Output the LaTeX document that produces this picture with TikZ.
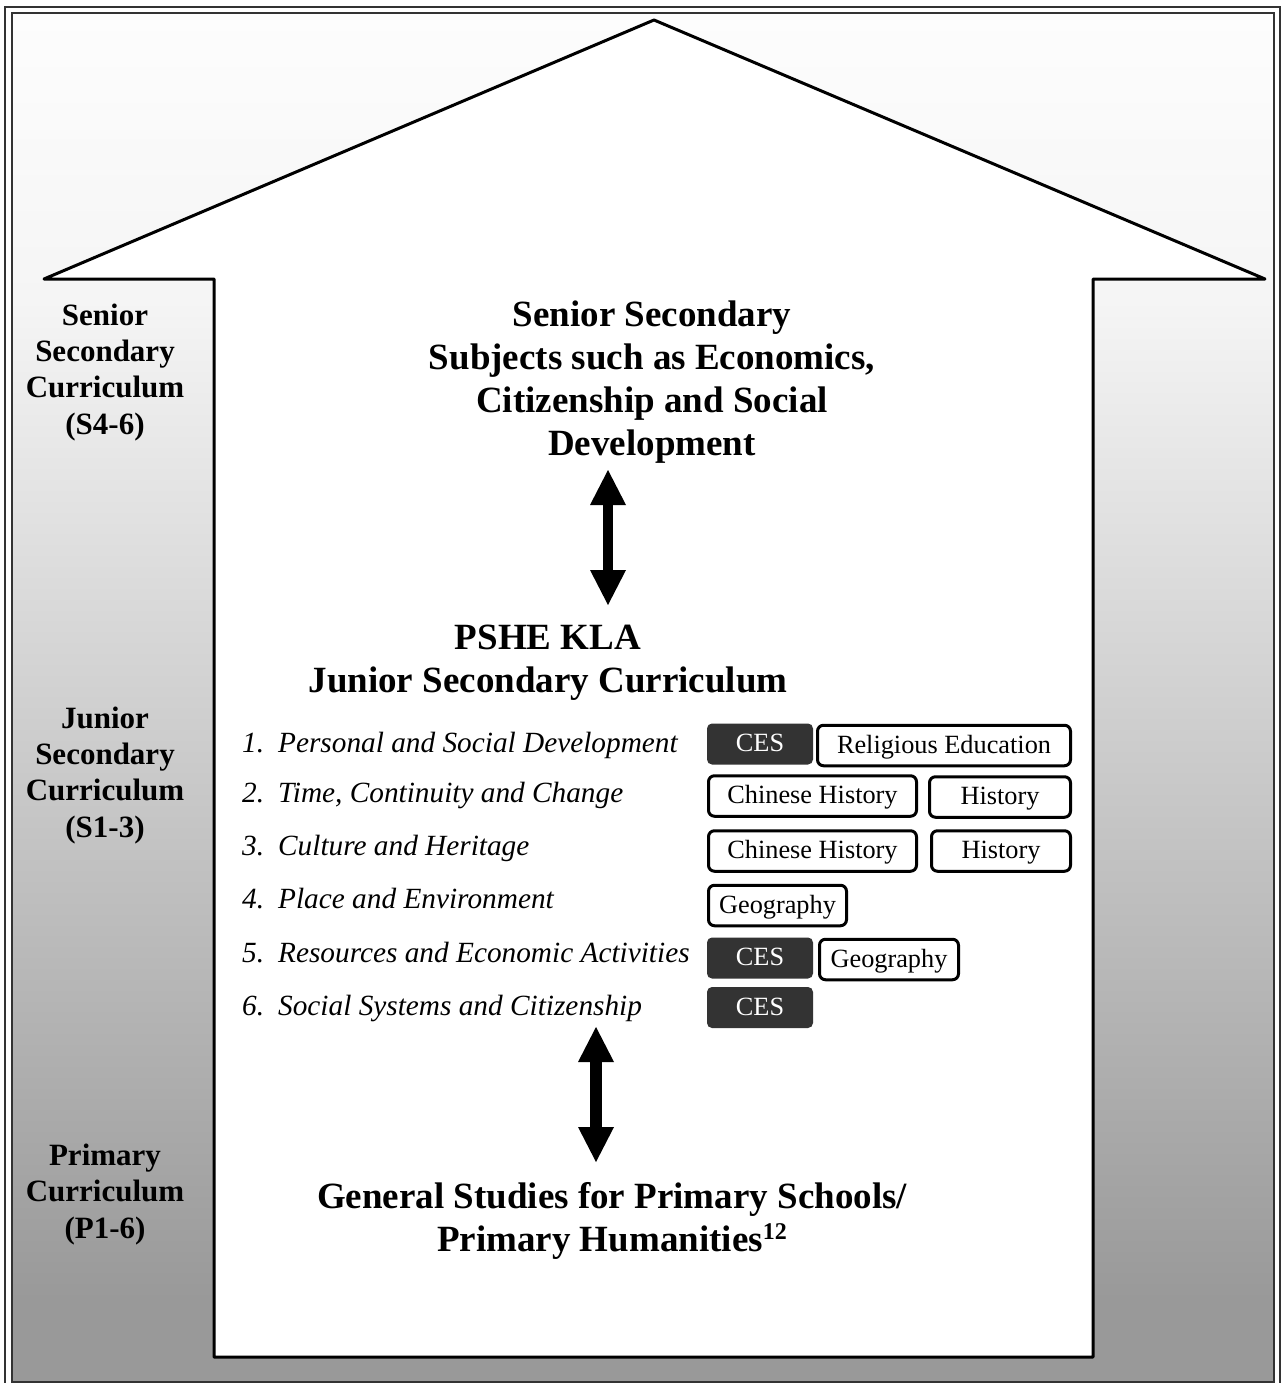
\documentclass[tikz,border=0pt]{standalone}
\usepackage{fontspec}
\setmainfont{Liberation Serif}
\usetikzlibrary{arrows.meta}
\definecolor{bgbot}{RGB}{153,153,153}
\definecolor{bgmid}{RGB}{245,245,245}
\definecolor{bgtop}{RGB}{253,253,253}
\definecolor{framegray}{RGB}{51,51,51}
\definecolor{cesgray}{RGB}{51,51,51}
\pgfdeclareverticalshading{bggrad}{100bp}{color(0bp)=(bgbot); color(28bp)=(bgbot); color(64.5bp)=(bgmid); color(75bp)=(bgtop); color(100bp)=(bgtop)}
\tikzset{
  frameline/.style={draw=framegray, line width=2pt},
  houseline/.style={draw=black, line width=3pt, fill=white, line join=round},
  sidelabel/.style={align=center, inner sep=0pt, font=\fontsize{31}{36.3}\selectfont\bfseries},
  titlelabel/.style={align=center, inner sep=0pt, font=\fontsize{37}{43}\selectfont\bfseries},
  itemlabel/.style={inner sep=0pt, anchor=base west, font=\fontsize{29.3}{29.3}\selectfont\itshape},
  subj/.style={draw=black, line width=3pt, fill=white, rounded corners=6pt, inner sep=0pt,
    font=\fontsize{26.3}{26.3}\selectfont, text height=19pt, text depth=4pt, minimum height=40.5pt},
  ces/.style={fill=cesgray, text=white, rounded corners=5pt, inner sep=0pt,
    font=\fontsize{26.3}{26.3}\selectfont, text height=19pt, text depth=4pt, minimum height=41pt, minimum width=106pt},
  dblarrow/.style={draw=black, {Triangle[length=35pt 0 0, width=36pt 0 0, line width=0pt 0 0]}-{Triangle[length=35pt 0 0, width=36pt 0 0, line width=0pt 0 0]}}
}
\begin{document}
\begin{tikzpicture}[x=1pt, y=-1pt]
\useasboundingbox (0,0) rectangle (1285,1383);
% frame and background
\draw[frameline] (5,7) rectangle (1280,1392);
\shade[shading=bggrad] (12,13) rectangle (1274,1382);
\draw[frameline] (12,13) rectangle (1274,1382);
% house outline
\draw[houseline] (654,20) -- (1265,279) -- (1093,279) -- (1093,1357) -- (214,1357) -- (214,279) -- (44,279) -- cycle;
% side labels (base = baseline of last line)
\node[sidelabel, anchor=base] (sslab) at (105,434) {Senior\\Secondary\\Curriculum\\(S4-6)};
\node[sidelabel, anchor=base] (jslab) at (105,837) {Junior\\Secondary\\Curriculum\\(S1-3)};
\node[sidelabel, anchor=base] (prlab) at (105,1238) {Primary\\Curriculum\\(P1-6)};
% titles
\node[titlelabel, anchor=base] (sstitle) at (652,455) {Senior Secondary\\Subjects such as Economics,\\Citizenship and Social\\Development};
\node[titlelabel, anchor=base] (jstitle) at (548,692) {PSHE KLA\\Junior Secondary Curriculum};
\node[titlelabel, anchor=base] (prtitle) at (612,1251) {General Studies for Primary Schools/\\Primary Humanities\raisebox{12pt}{\fontsize{24}{24}\selectfont 12}};
% strands
\node[itemlabel] (s1) at (242,752) {\makebox[36pt][l]{1.}Personal and Social Development};
\node[itemlabel] (s2) at (242,802) {\makebox[36pt][l]{2.}Time, Continuity and Change};
\node[itemlabel] (s3) at (242,855) {\makebox[36pt][l]{3.}Culture and Heritage};
\node[itemlabel] (s4) at (242,908) {\makebox[36pt][l]{4.}Place and Environment};
\node[itemlabel] (s5) at (242,962) {\makebox[36pt][l]{5.}Resources and Economic Activities};
\node[itemlabel] (s6) at (242,1015) {\makebox[36pt][l]{6.}Social Systems and Citizenship};
% subject boxes
\node[ces] (ces1) at (760,744) {CES};
\node[subj, minimum width=253pt] (rel) at (944,745.5) {Religious Education};
\node[subj, minimum width=208pt] (chh1) at (812.5,796) {Chinese History};
\node[subj, minimum width=141pt] (his1) at (1000,797) {History};
\node[subj, minimum width=208pt] (chh2) at (812.5,851) {Chinese History};
\node[subj, minimum width=139pt] (his2) at (1001,851) {History};
\node[subj, minimum width=138pt] (geo1) at (777.5,905.5) {Geography};
\node[ces] (ces2) at (760,958) {CES};
\node[subj, minimum width=139pt] (geo2) at (889,959.5) {Geography};
\node[ces] (ces3) at (760,1007.5) {CES};
% arrows
\coordinate (a1t) at (608,470);
\coordinate (a1b) at (608,605);
\coordinate (a2t) at (596,1027);
\coordinate (a2b) at (596,1162);
\draw[dblarrow, line width=10pt] (a1t) -- (a1b);
\draw[dblarrow, line width=12pt] (a2t) -- (a2b);
\end{tikzpicture}
\end{document}
